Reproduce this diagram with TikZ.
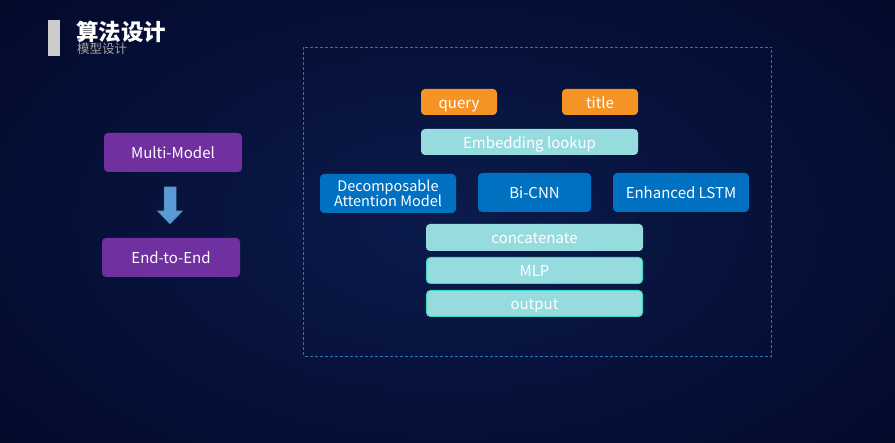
\documentclass[tikz,border=0pt]{standalone}
\usepackage{fontspec}
\setmainfont{Noto Sans CJK SC}
\newfontfamily\cjk{Noto Sans CJK SC}
\definecolor{bgin}{HTML}{0B1B4C}
\definecolor{bgout}{HTML}{020828}
\definecolor{purp}{HTML}{7030A0}
\definecolor{arrowblue}{HTML}{5B9BD5}
\definecolor{orng}{HTML}{F59424}
\definecolor{cyanbox}{HTML}{96DCDF}
\definecolor{bluebox}{HTML}{0070C0}
\definecolor{tealedge}{HTML}{3FD8C6}
\definecolor{dashc}{HTML}{2E75B6}
\begin{document}
\begin{tikzpicture}[x=1pt,y=-1pt,
  box/.style={rounded corners=4pt, text=white, inner sep=0pt, font=\fontsize{15}{16}\selectfont, align=center, text height=14.5pt, text depth=2pt},
  purpbox/.style={box, fill=purp},
  orbox/.style={box, fill=orng},
  cybox/.style={box, fill=cyanbox},
  blbox/.style={box, fill=bluebox},
  tlbox/.style={box, fill=cyanbox, draw=tealedge, line width=1pt}]
\useasboundingbox (0,0) rectangle (895,443);
\shade[inner color=bgin, outer color=bgout] (-200,-150) rectangle (1095,593);
% title
\fill[gray!40] (48,20) rectangle (60,56);
\node[anchor=west, text=white, font=\fontsize{22.5}{24}\selectfont\bfseries, inner sep=0pt] (t1) at (76,32) {算法设计};
\node[anchor=west, text=gray!70, font=\fontsize{12.5}{13}\selectfont, inner sep=0pt] (t2) at (77,48.5) {模型设计};
% left
\node[purpbox, minimum width=138, minimum height=39] (mm) at (173,152.5) {Multi-Model};
\node[purpbox, minimum width=138, minimum height=39] (ee) at (171,257.5) {End-to-End};
\fill[arrowblue, draw=arrowblue!80!black, line width=0.5pt] (164,187) -- (176,187) -- (176,211) -- (182.5,211) -- (170,224) -- (157.5,211) -- (164,211) -- cycle;
% dashed frame
\draw[dashc, line width=0.7pt, dash pattern=on 3pt off 2pt] (303.5,47.5) rectangle (771.5,356.5);
% right
\node[orbox, minimum width=76, minimum height=26] (q) at (459,102) {query};
\node[orbox, minimum width=76, minimum height=26] (ti) at (600,102) {title};
\node[cybox, minimum width=217, minimum height=26] (emb) at (529.5,142) {Embedding lookup};
\node[blbox, minimum width=136, minimum height=39, font=\fontsize{14.5}{15.5}\selectfont, text height=, text depth=] (da) at (388,193.5) {Decomposable\\Attention Model};
\node[blbox, minimum width=113, minimum height=39] (bc) at (534.5,192.5) {Bi-CNN};
\node[blbox, minimum width=136, minimum height=39] (el) at (681,192.5) {Enhanced LSTM};
\node[cybox, minimum width=217, minimum height=27] (cc) at (534.5,237.5) {concatenate};
\node[tlbox, minimum width=216, minimum height=26] (mlp) at (534.5,270.5) {MLP};
\node[tlbox, minimum width=216, minimum height=26] (out) at (534.5,303.5) {output};
\end{tikzpicture}
\end{document}
